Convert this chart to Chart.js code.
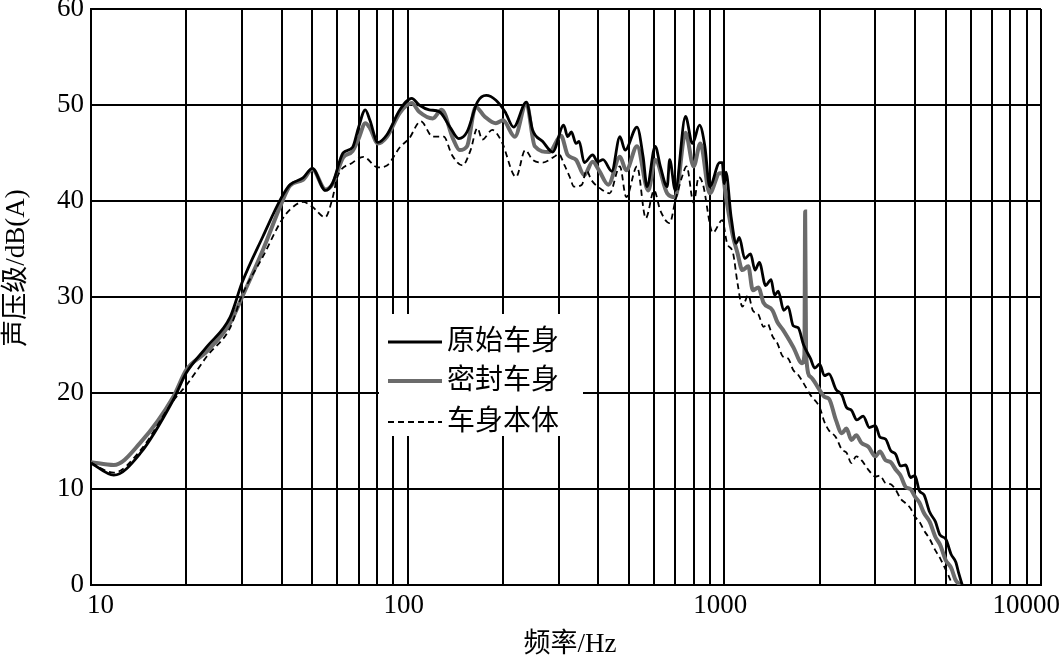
<!DOCTYPE html>
<html>
<head>
<meta charset="utf-8">
<script src="https://cdn.jsdelivr.net/npm/chart.js@4.4.1/dist/chart.umd.min.js"></script>
<style>
  body { margin: 0; background: #fff; }
  canvas { display: block; }
</style>
</head>
<body>
<canvas id="myChart" width="1061" height="661"></canvas>
<script>
// 原始车身
var freqA = [10, 11.8, 14.3, 18.2, 20, 23.2, 27.5, 30, 34.9, 40, 42.5, 46.7, 50, 55, 58, 62.5, 67, 70, 73.5, 76, 80.5, 86, 94.5,
  103, 108.7, 117, 126, 136, 145, 154, 166, 177, 190, 203, 216, 237, 248, 267, 287, 311, 320, 329, 340, 348, 361, 384, 398, 414, 441,
  468, 486, 530, 554, 570, 605, 628, 660, 672, 700, 754, 793, 835, 868, 899, 967, 985, 1000, 1012, 1050, 1090, 1115, 1160, 1210,
  1250, 1290, 1350, 1405, 1440, 1480, 1540, 1590, 1650, 1710, 1780, 1870, 1930, 2000, 2070, 2140, 2250, 2350, 2430, 2520, 2620,
  2745, 2870, 3000, 3100, 3230, 3350, 3480, 3600, 3740, 3870, 4000, 4130, 4270, 4450, 4640, 4800, 5000, 5200, 5380, 5500, 5640];
var valA = [12.7, 11.45, 13.7, 19.3, 22.1, 24.8, 27.9, 31.5, 36.3, 40.4, 41.7, 42.4, 43.4, 41.1, 41.9, 45, 45.6, 47.7, 49.5, 48.4, 46.1, 46.9, 49.5,
  50.7, 50, 49.5, 49.3, 47.7, 46.5, 47.2, 50.3, 51, 50.5, 49.3, 47.7, 50.3, 47.4, 46.2, 45.1, 47.9, 46.7, 47.2, 46, 46.2, 44, 44.8, 44.1, 44.3, 43.1,
  46.7, 45.3, 47.7, 44.6, 41.5, 45.7, 43.6, 41.5, 44.3, 41.1, 48.8, 46, 47.9, 45.7, 41.5, 44, 44, 41.8, 43, 38.4, 35.6, 36.2, 34, 34.5,
  32.8, 33.6, 31.2, 31.8, 30.2, 30.6, 28.6, 29, 27, 26.8, 25, 23.6, 22.6, 23, 21.8, 22, 20.4, 19.8, 18.5, 18.2, 17.2,
  17.6, 16.4, 16.6, 15.4, 15.2, 14, 13.6, 12.4, 12.5, 11.2, 11.4, 9.8, 9.4, 7.6, 6.6, 5.2, 4.8, 3.2, 2.4, 1.2, 0];

// 密封车身
var freqB = [10, 11.8, 14.3, 18.2, 20, 23.2, 27.5, 30, 34.9, 40, 42.5, 46.7, 50, 55, 58, 62.5, 67, 70, 73.5, 76, 80.5, 86, 94.5,
  103, 108.7, 120, 128, 139, 146, 154, 164, 175, 190, 200, 218, 237, 252, 280, 305, 320, 340, 361, 384, 402, 430, 468, 490, 530,
  575, 605, 660, 700, 754, 800, 840, 899, 967, 985, 1012, 1065, 1100, 1140, 1190, 1230, 1280, 1330, 1420, 1470, 1530, 1650, 1760,
  1790, 1800, 1812, 1870, 2000, 2070, 2140, 2250, 2350, 2430, 2520, 2610, 2710, 2850, 3000, 3100, 3230, 3350, 3480, 3600, 3740,
  3870, 4000, 4130, 4270, 4450, 4640, 4800, 5000, 5200, 5380, 5560];
var valB = [12.8, 12.5, 14.8, 19.6, 22.4, 24.3, 27.3, 30, 34.9, 39.8, 41.6, 42.2, 43.3, 41.2, 41.8, 44.5, 45.2, 46.5, 48.1, 47.6, 46, 46.7, 49.2,
  50.2, 49.3, 48.6, 49.5, 46.5, 45.3, 45.7, 49.8, 48.8, 48.1, 48.4, 46.7, 50.2, 45.7, 45.1, 46.8, 44.8, 44.3, 42.7, 44.1, 43.2, 41.7, 44.6, 43.2, 45.7,
  41.1, 44.3, 40.8, 40.4, 47.1, 43.6, 46, 40.8, 42.9, 42.9, 40.4, 36.3, 34.6, 32.8, 33.2, 30.7, 31, 29.4, 28.6, 27.4, 26.6, 24.8, 23.1,
  24, 38.9, 24, 21.7, 20.3, 19.6, 19.4, 17.2, 15.8, 16.3, 15.1, 15.6, 14.8, 14.4, 13.4, 13.9, 13, 12.8, 12, 11.4, 10.2,
  10, 9.2, 8.6, 7.5, 6.6, 5, 4.2, 2.6, 1.8, 0.5, 0];

// 车身本体
var freqC = [10, 11.8, 14.3, 18.2, 20, 23.2, 27.5, 30, 34.9, 40, 42.5, 46.7, 50, 54.9, 58, 60, 67, 72.5, 80.5, 86, 94.5,
  101, 110, 120, 130, 138, 149, 158, 166, 172, 185, 198, 220, 235, 248, 267, 290, 300, 313, 325, 335, 355, 367, 380, 414, 434,
  468, 490, 530, 565, 600, 628, 672, 700, 735, 760, 800, 830, 855, 920, 985, 1020, 1065, 1100, 1140, 1190, 1230, 1280, 1330, 1370,
  1420, 1470, 1530, 1590, 1650, 1710, 1780, 1870, 2000, 2070, 2140, 2250, 2350, 2430, 2520, 2610, 2710, 2850, 3000, 3100, 3230,
  3350, 3480, 3600, 3740, 3870, 4000, 4130, 4270, 4450, 4640, 4800, 5000, 5100, 5250];
var valC = [12.7, 11.7, 14, 19.2, 20.8, 23.8, 26.8, 30.2, 34.2, 38, 39.1, 39.9, 39.4, 38.3, 40.4, 42.5, 44, 44.6, 43.5, 43.7, 45.6,
  46.5, 48.3, 46.7, 46.7, 44.8, 43.7, 45.3, 47.6, 46.4, 47.4, 46.2, 42.5, 45.3, 44.3, 44, 44.6, 44.9, 43.7, 42.5, 41.5, 41.7, 43.2, 42.2, 41.1, 40.8,
  43.6, 40.4, 43.6, 38.2, 41.1, 39, 37.7, 40, 42.5, 43.6, 39.8, 42.5, 41.8, 36.7, 38, 35.6, 34.6, 31.5, 29, 30.2, 28.6, 28.2, 26.9, 27.2,
  25.9, 25.2, 23.8, 23.6, 22.4, 21.9, 21, 19.8, 18.5, 17, 16.1, 15.4, 14.1, 13.8, 12.7, 13.4, 13, 12, 11.3, 11.4, 10.6,
  10.5, 9.9, 9, 8.5, 8, 7.1, 6.6, 5.7, 4.8, 3.6, 2.8, 1.6, 1, 0];

var seriesNames = ["原始车身", "密封车身", "车身本体"];
var xGrid = [10, 20, 30, 40, 50, 60, 70, 80, 90, 100, 200, 300, 400, 500, 600, 700, 800, 900,
  1000, 2000, 3000, 4000, 5000, 6000, 7000, 8000, 9000, 10000];
var xLabels = [10, 100, 1000, 10000];

var serif = '"Liberation Serif", "Noto Sans CJK SC", serif';

function pts(xs, ys) {
  return xs.map(function (x, i) { return { x: x, y: ys[i] }; });
}

var overlay = {
  id: 'overlay',
  afterDraw: function (chart) {
    var ctx = chart.ctx;
    var xs = chart.scales.x;
    ctx.save();
    ctx.fillStyle = '#000';
    ctx.font = '27px ' + serif;
    ctx.textBaseline = 'middle';
    xLabels.forEach(function (v, i) {
      var px = xs.getPixelForValue(v);
      if (i == 0) { ctx.textAlign = 'left'; px = px - 4; }
      else if (i == xLabels.length - 1) { ctx.textAlign = 'right'; px = chart.width - 1; }
      else { ctx.textAlign = 'center'; px = px - 4; }
      ctx.fillText(String(v), px, 606);
    });
    // axis titles
    ctx.textAlign = 'center';
    ctx.fillText('频率/Hz', 570, 645);
    ctx.save();
    ctx.translate(17, 268);
    ctx.rotate(-Math.PI / 2);
    ctx.fillText('声压级/dB(A)', 0, 0);
    ctx.restore();
    // legend
    ctx.fillStyle = '#fff';
    ctx.fillRect(379, 314, 204, 122);
    var rows = [342, 381, 422];
    chart.data.datasets.forEach(function (ds, i) {
      ctx.beginPath();
      ctx.strokeStyle = ds.borderColor;
      ctx.lineWidth = ds.borderWidth;
      ctx.setLineDash(ds.borderDash || []);
      ctx.moveTo(388, rows[i]);
      ctx.lineTo(442, rows[i]);
      ctx.stroke();
      ctx.setLineDash([]);
      ctx.fillStyle = '#000';
      ctx.textAlign = 'left';
      ctx.font = '28px ' + serif;
      ctx.fillText(ds.label, 447, rows[i] + 1);
    });
    ctx.restore();
  }
};

var config = {
  type: 'line',
  data: {
    datasets: [{
      label: seriesNames[0],
      data: pts(freqA, valA),
      borderColor: '#000',
      borderWidth: 2.8,
      order: 1
    }, {
      label: seriesNames[1],
      data: pts(freqB, valB),
      borderColor: '#6b6b6b',
      borderWidth: 4,
      order: 3
    }, {
      label: seriesNames[2],
      data: pts(freqC, valC),
      borderColor: '#000',
      borderWidth: 1.8,
      borderDash: [6, 4],
      order: 2
    }]
  },
  options: {
    responsive: false,
    animation: false,
    devicePixelRatio: 1,
    layout: { autoPadding: false, padding: { left: 0, top: 9, right: 20, bottom: 0 } },
    elements: { point: { radius: 0 }, line: { cubicInterpolationMode: 'monotone', fill: false } },
    plugins: { legend: { display: false }, tooltip: { enabled: false } },
    scales: {
      x: {
        type: 'logarithmic',
        min: 10,
        max: 10000,
        afterBuildTicks: function (s) { s.ticks = xGrid.map(function (v) { return { value: v }; }); },
        afterFit: function (s) { s.height = 76; s.paddingLeft = 0; s.paddingRight = 0; },
        ticks: { display: false, autoSkip: false },
        grid: { color: '#000', lineWidth: 2, drawTicks: false },
        border: { color: '#000', width: 2 }
      },
      y: {
        min: 0,
        max: 60,
        afterFit: function (s) { s.width = 91; s.paddingTop = 0; s.paddingBottom = 0; },
        ticks: { stepSize: 10, padding: 7, color: '#000', font: { family: serif, size: 27 } },
        grid: { color: '#000', lineWidth: 2, drawTicks: false },
        border: { color: '#000', width: 2 }
      }
    }
  },
  plugins: [overlay]
};

var myChart = new Chart(document.getElementById('myChart').getContext('2d'), config);
</script>
</body>
</html>
